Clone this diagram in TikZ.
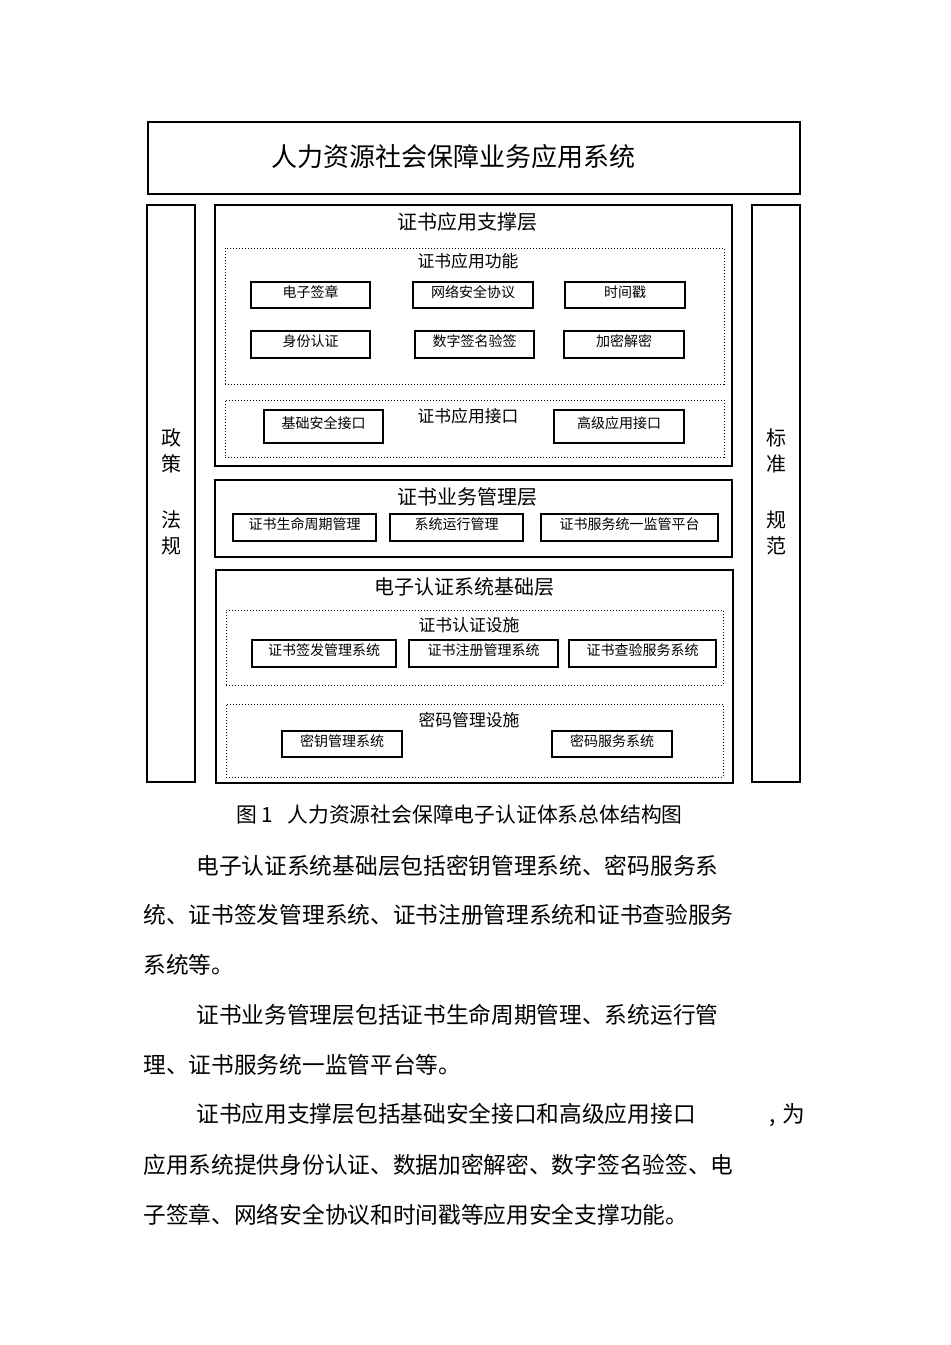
\documentclass[tikz,border=0pt]{standalone}
\usepackage{fontspec}
\setmainfont{Noto Sans CJK SC}
\usetikzlibrary{fit}

\begin{document}
\begin{tikzpicture}[x=0.5pt,y=-0.5pt,
      layer/.style={draw, line width=0.6pt, inner sep=0pt},
      group/.style={draw, densely dotted, line width=0.5pt, inner sep=0pt},
      item/.style={draw, line width=0.6pt, inner sep=0pt},
      every label/.style={font=\fontsize{7}{8}\selectfont, inner sep=0pt, yshift=1.5pt},
      bigtitle/.style={font=\fontsize{13}{15}\selectfont},
      layertitle/.style={font=\fontsize{10}{12}\selectfont},
      grouptitle/.style={font=\fontsize{8.4}{10}\selectfont},
      sidetext/.style={align=center, font=\fontsize{10}{13}\selectfont},
      body/.style={anchor=west, inner sep=0pt, font=\fontsize{11.35}{14}\selectfont}]
  \useasboundingbox (0,0) rectangle (950,1345);

  % top application system
  \node[layer, fit={(148,122) (800,194)}] (app) {};
  \node[bigtitle] (apptitle) at (453,157) {人力资源社会保障业务应用系统};

  % side columns
  \node[layer, fit={(147,205) (195,782)}] (policy) {};
  \node[sidetext] (policytext) at (171,492) {政\\策\\[15pt]法\\规};
  \node[layer, fit={(752,205) (800,782)}] (standard) {};
  \node[sidetext] (standardtext) at (776,492) {标\\准\\[15pt]规\\范};

  % support layer
  \node[layer, fit={(215,205) (732,466)}] (support) {};
  \node[layertitle] (supporttitle) at (467,222) {证书应用支撑层};
  \node[group, fit={(225,248) (724,384)}] (funcs) {};
  \node[grouptitle] (funcstitle) at (468,261) {证书应用功能};
  \node[item, fit={(251,282) (370,308)}, label=center:电子签章] (seal) {};
  \node[item, fit={(413,282) (533,308)}, label=center:网络安全协议] (netsec) {};
  \node[item, fit={(565,282) (685,308)}, label=center:时间戳] (tstamp) {};
  \node[item, fit={(251,331) (370,358)}, label=center:身份认证] (ident) {};
  \node[item, fit={(415,331) (534,358)}, label=center:数字签名验签] (digsig) {};
  \node[item, fit={(564,331) (684,358)}, label=center:加密解密] (crypt) {};
  \node[group, fit={(225,400) (724,457)}] (iface) {};
  \node[grouptitle] (ifacetitle) at (468,416) {证书应用接口};
  \node[item, fit={(264,410) (383,443)}, label=center:基础安全接口] (basicif) {};
  \node[item, fit={(554,410) (684,443)}, label=center:高级应用接口] (advif) {};

  % business management layer
  \node[layer, fit={(215,480) (732,557)}] (biz) {};
  \node[layertitle] (biztitle) at (467,497) {证书业务管理层};
  \node[item, fit={(233,514) (376,541)}, label=center:证书生命周期管理] (lifecycle) {};
  \node[item, fit={(390,514) (523,541)}, label=center:系统运行管理] (runmgmt) {};
  \node[item, fit={(541,514) (718,541)}, label=center:证书服务统一监管平台] (supervise) {};

  % base layer
  \node[layer, fit={(216,570) (733,783)}] (base) {};
  \node[layertitle] (basetitle) at (464,587) {电子认证系统基础层};
  \node[group, fit={(226,610) (723,685)}] (certinfra) {};
  \node[grouptitle] (certinfratitle) at (469,625) {证书认证设施};
  \node[item, fit={(252,640) (396,667)}, label=center:证书签发管理系统] (issue) {};
  \node[item, fit={(409,640) (558,667)}, label=center:证书注册管理系统] (register) {};
  \node[item, fit={(569,640) (716,667)}, label=center:证书查验服务系统] (verify) {};
  \node[group, fit={(226,704) (723,777)}] (keyinfra) {};
  \node[grouptitle] (keyinfratitle) at (469,720) {密码管理设施};
  \node[item, fit={(282,731) (402,757)}, label=center:密钥管理系统] (keymgmt) {};
  \node[item, fit={(552,731) (672,757)}, label=center:密码服务系统] (cryptsvc) {};

  % caption and text
  \node[anchor=west, inner sep=0pt, font=\fontsize{10.4}{12}\selectfont] (caption) at (236,815)
    {图 1\hspace{7pt}人力资源社会保障电子认证体系总体结构图};
  \node[body] (line1) at (196,866) {电子认证系统基础层包括密钥管理系统、密码服务系};
  \node[body] (line2) at (143,915) {统、证书签发管理系统、证书注册管理系统和证书查验服务};
  \node[body] (line3) at (143,965) {系统等。};
  \node[body] (line4) at (196,1015) {证书业务管理层包括证书生命周期管理、系统运行管};
  \node[body] (line5) at (143,1065) {理、证书服务统一监管平台等。};
  \node[body] (line6) at (196,1115) {证书应用支撑层包括基础安全接口和高级应用接口\hspace{37pt},\hspace{3pt}为};
  \node[body] (line7) at (143,1165) {应用系统提供身份认证、数据加密解密、数字签名验签、电};
  \node[body] (line8) at (143,1215) {子签章、网络安全协议和时间戳等应用安全支撑功能。};
\end{tikzpicture}
\end{document}
